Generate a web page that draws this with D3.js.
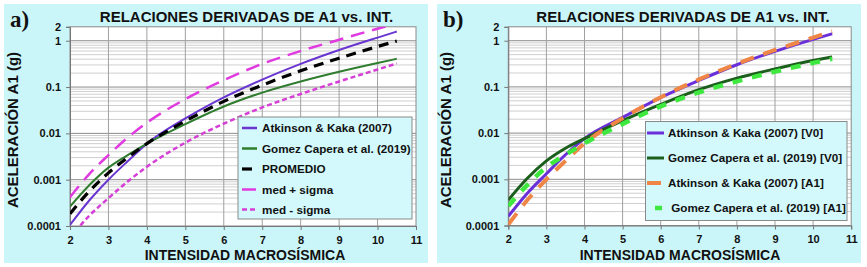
<!DOCTYPE html>
<html>
<head>
<meta charset="utf-8">
<script src="https://cdn.jsdelivr.net/npm/d3@7"></script>
<style>
  body { margin: 0; background: #fff; }
  svg { display: block; }
  text { font-family: Arial, "Liberation Sans", sans-serif; font-weight: bold; fill: #111; }
</style>
</head>
<body>
<svg id="chart" width="867" height="267"></svg>
<script>
// intensity values where the curves were read (MMI)
var intensity = [2, 2.5, 3, 3.5, 4, 5, 6, 7, 8, 9, 10, 10.5];

// acceleration A1 in g
var akA1 = [0.000105, 0.000355, 0.0010, 0.0025, 0.0060, 0.021, 0.060, 0.145, 0.316, 0.63, 1.17, 1.58];
var gcA1 = [0.000263, 0.00076, 0.00182, 0.0034, 0.0060, 0.0158, 0.038, 0.0759, 0.132, 0.214, 0.331, 0.407];
var promedio = [0.000184, 0.00056, 0.0014, 0.0030, 0.0060, 0.0184, 0.049, 0.110, 0.224, 0.42, 0.75, 0.99];
var medPlusSigma = [0.00042, 0.00132, 0.0034, 0.0081, 0.017, 0.055, 0.141, 0.316, 0.60, 1.05, 1.82, 2.34];
var medMinusSigma = [0.000056, 0.000166, 0.0004, 0.00091, 0.0019, 0.0063, 0.0162, 0.0363, 0.0708, 0.132, 0.24, 0.324];
var akV0 = [0.000158, 0.0005, 0.00132, 0.0034, 0.0076, 0.0219, 0.0589, 0.138, 0.302, 0.589, 1.07, 1.41];
var gcV0 = [0.000355, 0.00105, 0.0025, 0.0047, 0.0076, 0.0186, 0.0417, 0.087, 0.155, 0.245, 0.372, 0.447];

var xTicks = [2, 3, 4, 5, 6, 7, 8, 9, 10, 11];
var yTicks = [0.0001, 0.001, 0.01, 0.1, 1, 2];
var yTickLabels = ["0.0001", "0.001", "0.01", "0.1", "1", "2"];

var titleText = "RELACIONES DERIVADAS DE A1 vs. INT.";
var xLabelText = "INTENSIDAD MACROSÍSMICA";
var yLabelText = "ACELERACIÓN A1 (g)";

var namesA = ["Atkinson & Kaka (2007)", "Gomez Capera et al. (2019)", "PROMEDIO", "med + sigma", "med - sigma"];
var namesB = ["Atkinson & Kaka (2007) [V0]", "Gomez Capera et al. (2019) [V0]", "Atkinson & Kaka (2007) [A1]", " Gomez Capera et al. (2019) [A1]"];

var svg = d3.select("#chart");

var panels = [
  {
    id: "a", tag: "a)", bg: [4, 4, 424, 259], plot: [70, 416], top: 26.8, bottom: 226,
    title: 246.5, xlab: 245,
    legend: { x: 238, y: 117, w: 174, h: 102, rows: [128, 148.5, 169, 189.5, 209.5], sx: [242, 257], tx: 262 },
    series: [
      { name: namesA[0], values: akA1, color: "#6a36d2", width: 2, dash: null },
      { name: namesA[1], values: gcA1, color: "#2f7d2f", width: 2, dash: null },
      { name: namesA[2], values: promedio, color: "#000", width: 3.2, dash: "10,7" },
      { name: namesA[3], values: medPlusSigma, color: "#e03ae0", width: 2.5, dash: "14,8" },
      { name: namesA[4], values: medMinusSigma, color: "#d63fd6", width: 2.5, dash: "5,3" }
    ]
  },
  {
    id: "b", tag: "b)", bg: [437, 4, 424, 259], plot: [508.3, 851.2], top: 26.8, bottom: 225.5,
    title: 683, xlab: 680,
    legend: { x: 645.5, y: 121.5, w: 201.5, h: 99, rows: [133, 158, 183, 208], sx: [647, 664], tx: 668 },
    series: [
      { name: namesB[0], values: akV0, color: "#6a2fd8", width: 3, dash: null },
      { name: namesB[1], values: gcV0, color: "#1c5e1c", width: 3, dash: null },
      { name: namesB[2], values: akA1, color: "#ef8646", width: 4, dash: "14,10", sx: [647, 661] },
      { name: namesB[3], values: gcA1, color: "#3ee83e", width: 4.5, dash: "10,10", sx: [655, 662] }
    ]
  }
];

panels.forEach(function (p) {
  var g = svg.append("g");

  g.append("rect")
    .attr("x", p.bg[0]).attr("y", p.bg[1])
    .attr("width", p.bg[2]).attr("height", p.bg[3])
    .attr("fill", "#cbf6f9");

  var x = d3.scaleLinear().domain([2, 11]).range(p.plot);
  var y = d3.scaleLog().domain([0.0001, 2]).range([p.bottom, p.top]);

  g.append("rect")
    .attr("x", p.plot[0]).attr("y", p.top)
    .attr("width", p.plot[1] - p.plot[0]).attr("height", p.bottom - p.top)
    .attr("fill", "#fff");

  // horizontal grid: minor then decade lines
  var minor = [];
  [0.0001, 0.001, 0.01, 0.1, 1].forEach(function (d) {
    for (var k = 2; k <= 9; k++) if (k * d < 2) minor.push(k * d);
  });
  g.selectAll(".minor").data(minor).enter().append("line")
    .attr("x1", p.plot[0]).attr("x2", p.plot[1])
    .attr("y1", function (d) { return y(d); }).attr("y2", function (d) { return y(d); })
    .attr("stroke", "#cfcfcf").attr("stroke-width", 1);

  g.selectAll(".major").data([0.001, 0.01, 0.1, 1]).enter().append("line")
    .attr("x1", p.plot[0]).attr("x2", p.plot[1])
    .attr("y1", function (d) { return y(d); }).attr("y2", function (d) { return y(d); })
    .attr("stroke", "#8c8c8c").attr("stroke-width", 1);

  g.selectAll(".vgrid").data(xTicks.slice(1, -1)).enter().append("line")
    .attr("x1", function (d) { return x(d); }).attr("x2", function (d) { return x(d); })
    .attr("y1", p.top).attr("y2", p.bottom)
    .attr("stroke", "#a0a0a0").attr("stroke-width", 1);

  g.append("rect")
    .attr("x", p.plot[0]).attr("y", p.top)
    .attr("width", p.plot[1] - p.plot[0]).attr("height", p.bottom - p.top)
    .attr("fill", "none").attr("stroke", "#8a8a8a");

  // axes
  var xAxis = g.append("g")
    .attr("transform", "translate(0," + p.bottom + ")")
    .call(d3.axisBottom(x).tickValues(xTicks).tickFormat(d3.format("d")).tickSize(4).tickPadding(6));
  var yAxis = g.append("g")
    .attr("transform", "translate(" + p.plot[0] + ",0)")
    .call(d3.axisLeft(y).tickValues(yTicks).tickFormat(function (d, i) { return yTickLabels[i]; }).tickSize(4).tickPadding(5));
  [xAxis, yAxis].forEach(function (ax) {
    ax.select(".domain").attr("stroke", "#777");
    ax.selectAll(".tick line").attr("stroke", "#777");
    ax.selectAll("text").style("font-size", "11px").attr("fill", "#111");
  });

  // curves
  g.append("clipPath").attr("id", "clip-" + p.id).append("rect")
    .attr("x", p.plot[0]).attr("y", p.top)
    .attr("width", p.plot[1] - p.plot[0]).attr("height", p.bottom - p.top);

  var line = d3.line()
    .x(function (d) { return x(d[0]); })
    .y(function (d) { return y(d[1]); })
    .curve(d3.curveMonotoneX);

  var curves = g.append("g").attr("clip-path", "url(#clip-" + p.id + ")");
  p.series.forEach(function (s) {
    curves.append("path")
      .datum(intensity.map(function (v, i) { return [v, s.values[i]]; }))
      .attr("d", line)
      .attr("fill", "none")
      .attr("stroke", s.color)
      .attr("stroke-width", s.width)
      .attr("stroke-dasharray", s.dash);
  });

  // texts
  g.append("text").attr("x", p.title).attr("y", 21.7)
    .attr("text-anchor", "middle").style("font-size", "15px").text(titleText);
  g.append("text").attr("x", p.xlab).attr("y", 260)
    .attr("text-anchor", "middle").style("font-size", "14px").text(xLabelText);
  g.append("text")
    .attr("transform", "translate(" + (p.bg[0] + 14) + ",130) rotate(-90)")
    .attr("text-anchor", "middle").style("font-size", "15px").text(yLabelText);
  g.append("text").attr("x", p.bg[0] + 6).attr("y", 26.7)
    .style("font-family", "'Liberation Serif', 'Times New Roman', serif")
    .style("font-size", "23px").text(p.tag);

  // legend
  var L = p.legend;
  g.append("rect")
    .attr("x", L.x).attr("y", L.y).attr("width", L.w).attr("height", L.h)
    .attr("fill", "#d3f9fc").attr("stroke", "#8a8a8a");
  p.series.forEach(function (s, i) {
    var sx = s.sx || L.sx;
    g.append("line")
      .attr("x1", sx[0]).attr("x2", sx[1])
      .attr("y1", L.rows[i]).attr("y2", L.rows[i])
      .attr("stroke", s.color)
      .attr("stroke-width", Math.max(s.width, 2.5))
      .attr("stroke-dasharray", s.dash);
    g.append("text")
      .attr("x", L.tx).attr("y", L.rows[i]).attr("dy", "0.35em")
      .style("font-size", "11.7px").style("white-space", "pre")
      .text(s.name);
  });
});
</script>
</body>
</html>
